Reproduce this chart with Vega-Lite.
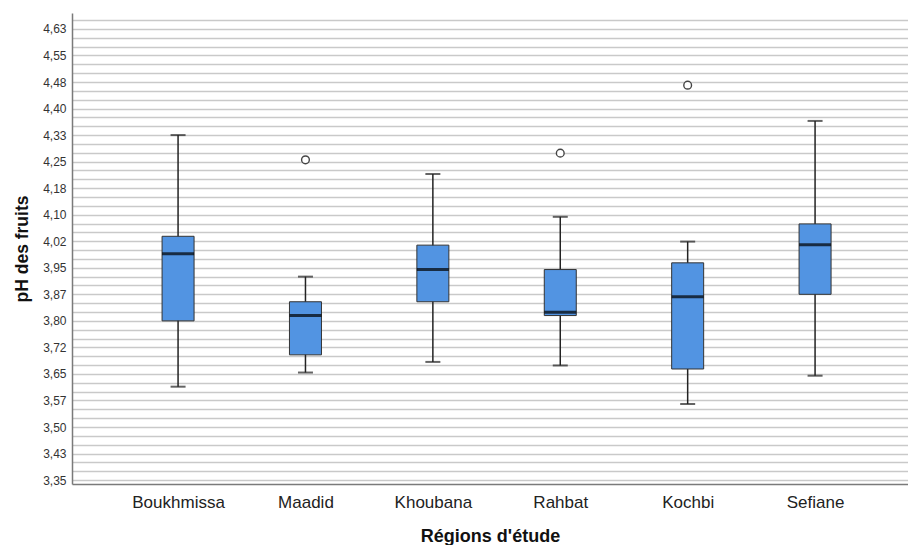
{
  "$schema": "https://vega.github.io/schema/vega-lite/v6.json",
  "width": 836,
  "height": 471,
  "autosize": {"type": "none"},
  "padding": {"left": 72, "top": 13, "right": 0, "bottom": 61},
  "background": "white",
  "config": {
    "view": {"stroke": null},
    "font": "Liberation Sans",
    "axisY": {
      "labelOverlap": false,
      "labelFontSize": 12,
      "labelColor": "#333333",
      "labelPadding": 6,
      "ticks": false,
      "grid": true,
      "gridColor": "#c9c9c9",
      "gridWidth": 1.6,
      "domainColor": "#7a7a7a",
      "domainWidth": 1.5,
      "titleFontSize": 17.5,
      "titleFontWeight": "bold",
      "titleColor": "#111111",
      "titlePadding": 11
    }
  },
  "datasets": {
    "boxes": [
      {"region": "Boukhmissa", "lower": 3.614, "q1": 3.800, "median": 3.990, "q3": 4.039, "upper": 4.325},
      {"region": "Maadid", "lower": 3.654, "q1": 3.704, "median": 3.815, "q3": 3.854, "upper": 3.925},
      {"region": "Khoubana", "lower": 3.684, "q1": 3.854, "median": 3.945, "q3": 4.014, "upper": 4.215},
      {"region": "Rahbat", "lower": 3.674, "q1": 3.815, "median": 3.824, "q3": 3.945, "upper": 4.094},
      {"region": "Kochbi", "lower": 3.565, "q1": 3.664, "median": 3.868, "q3": 3.964, "upper": 4.024},
      {"region": "Sefiane", "lower": 3.645, "q1": 3.875, "median": 4.015, "q3": 4.074, "upper": 4.365}
    ],
    "outliers": [
      {"region": "Maadid", "value": 4.255},
      {"region": "Rahbat", "value": 4.274},
      {"region": "Kochbi", "value": 4.466}
    ]
  },
  "encoding": {
    "x": {
      "field": "region",
      "type": "nominal",
      "sort": ["Boukhmissa", "Maadid", "Khoubana", "Rahbat", "Kochbi", "Sefiane"],
      "scale": {"type": "point", "padding": 0.781, "align": 0.533},
      "axis": {
        "title": "Régions d'étude",
        "titleFontSize": 18,
        "titleFontWeight": "bold",
        "titleColor": "#111111",
        "titlePadding": 17,
        "labelFontSize": 17,
        "labelColor": "#222222",
        "labelPadding": 10,
        "labelAngle": 0,
        "ticks": false,
        "grid": false,
        "domainColor": "#7a7a7a",
        "domainWidth": 1.5
      }
    }
  },
  "layer": [
    {
      "data": {"name": "boxes"},
      "mark": {"type": "rule", "color": "#222222", "strokeWidth": 1.5},
      "encoding": {
        "y": {
          "field": "lower",
          "type": "quantitative",
          "title": "pH des fruits",
          "scale": {"domain": [3.339, 4.67], "nice": false, "zero": false},
          "axis": {
            "values": [3.35, 3.375, 3.4, 3.425, 3.45, 3.475, 3.5, 3.525, 3.55, 3.575, 3.6, 3.625, 3.65, 3.675, 3.7, 3.725, 3.75, 3.775, 3.8, 3.825, 3.85, 3.875, 3.9, 3.925, 3.95, 3.975, 4.0, 4.025, 4.05, 4.075, 4.1, 4.125, 4.15, 4.175, 4.2, 4.225, 4.25, 4.275, 4.3, 4.325, 4.35, 4.375, 4.4, 4.425, 4.45, 4.475, 4.5, 4.525, 4.55, 4.575, 4.6, 4.625, 4.65],
            "labelExpr": "(round((datum.value - 3.35) / 0.025) % 3 == 0) ? ['3,35','3,43','3,50','3,57','3,65','3,72','3,80','3,87','3,95','4,02','4,10','4,18','4,25','4,33','4,40','4,48','4,55','4,63'][round((datum.value - 3.35) / 0.075)] : ''"
          }
        },
        "y2": {"field": "upper"}
      }
    },
    {
      "data": {"name": "boxes"},
      "mark": {"type": "tick", "color": "#222222", "size": 15, "thickness": 2, "orient": "horizontal"},
      "encoding": {
        "y": {
          "field": "lower", "type": "quantitative", "title": "pH des fruits",
          "scale": {"domain": [3.339, 4.67], "nice": false, "zero": false},
          "axis": {
            "values": [3.35, 3.375, 3.4, 3.425, 3.45, 3.475, 3.5, 3.525, 3.55, 3.575, 3.6, 3.625, 3.65, 3.675, 3.7, 3.725, 3.75, 3.775, 3.8, 3.825, 3.85, 3.875, 3.9, 3.925, 3.95, 3.975, 4.0, 4.025, 4.05, 4.075, 4.1, 4.125, 4.15, 4.175, 4.2, 4.225, 4.25, 4.275, 4.3, 4.325, 4.35, 4.375, 4.4, 4.425, 4.45, 4.475, 4.5, 4.525, 4.55, 4.575, 4.6, 4.625, 4.65],
            "labelExpr": "(round((datum.value - 3.35) / 0.025) % 3 == 0) ? ['3,35','3,43','3,50','3,57','3,65','3,72','3,80','3,87','3,95','4,02','4,10','4,18','4,25','4,33','4,40','4,48','4,55','4,63'][round((datum.value - 3.35) / 0.075)] : ''"
          }
        }
      }
    },
    {
      "data": {"name": "boxes"},
      "mark": {"type": "tick", "color": "#222222", "size": 15, "thickness": 2, "orient": "horizontal"},
      "encoding": {
        "y": {
          "field": "upper", "type": "quantitative", "title": "pH des fruits",
          "scale": {"domain": [3.339, 4.67], "nice": false, "zero": false},
          "axis": {
            "values": [3.35, 3.375, 3.4, 3.425, 3.45, 3.475, 3.5, 3.525, 3.55, 3.575, 3.6, 3.625, 3.65, 3.675, 3.7, 3.725, 3.75, 3.775, 3.8, 3.825, 3.85, 3.875, 3.9, 3.925, 3.95, 3.975, 4.0, 4.025, 4.05, 4.075, 4.1, 4.125, 4.15, 4.175, 4.2, 4.225, 4.25, 4.275, 4.3, 4.325, 4.35, 4.375, 4.4, 4.425, 4.45, 4.475, 4.5, 4.525, 4.55, 4.575, 4.6, 4.625, 4.65],
            "labelExpr": "(round((datum.value - 3.35) / 0.025) % 3 == 0) ? ['3,35','3,43','3,50','3,57','3,65','3,72','3,80','3,87','3,95','4,02','4,10','4,18','4,25','4,33','4,40','4,48','4,55','4,63'][round((datum.value - 3.35) / 0.075)] : ''"
          }
        }
      }
    },
    {
      "data": {"name": "boxes"},
      "mark": {"type": "bar", "size": 32, "fill": "#5294e2", "stroke": "#333333", "strokeWidth": 1},
      "encoding": {
        "y": {
          "field": "q1", "type": "quantitative", "title": "pH des fruits",
          "scale": {"domain": [3.339, 4.67], "nice": false, "zero": false},
          "axis": {
            "values": [3.35, 3.375, 3.4, 3.425, 3.45, 3.475, 3.5, 3.525, 3.55, 3.575, 3.6, 3.625, 3.65, 3.675, 3.7, 3.725, 3.75, 3.775, 3.8, 3.825, 3.85, 3.875, 3.9, 3.925, 3.95, 3.975, 4.0, 4.025, 4.05, 4.075, 4.1, 4.125, 4.15, 4.175, 4.2, 4.225, 4.25, 4.275, 4.3, 4.325, 4.35, 4.375, 4.4, 4.425, 4.45, 4.475, 4.5, 4.525, 4.55, 4.575, 4.6, 4.625, 4.65],
            "labelExpr": "(round((datum.value - 3.35) / 0.025) % 3 == 0) ? ['3,35','3,43','3,50','3,57','3,65','3,72','3,80','3,87','3,95','4,02','4,10','4,18','4,25','4,33','4,40','4,48','4,55','4,63'][round((datum.value - 3.35) / 0.075)] : ''"
          }
        },
        "y2": {"field": "q3"}
      }
    },
    {
      "data": {"name": "boxes"},
      "mark": {"type": "tick", "color": "#000000", "size": 32, "thickness": 3, "orient": "horizontal"},
      "encoding": {
        "y": {
          "field": "median", "type": "quantitative", "title": "pH des fruits",
          "scale": {"domain": [3.339, 4.67], "nice": false, "zero": false},
          "axis": {
            "values": [3.35, 3.375, 3.4, 3.425, 3.45, 3.475, 3.5, 3.525, 3.55, 3.575, 3.6, 3.625, 3.65, 3.675, 3.7, 3.725, 3.75, 3.775, 3.8, 3.825, 3.85, 3.875, 3.9, 3.925, 3.95, 3.975, 4.0, 4.025, 4.05, 4.075, 4.1, 4.125, 4.15, 4.175, 4.2, 4.225, 4.25, 4.275, 4.3, 4.325, 4.35, 4.375, 4.4, 4.425, 4.45, 4.475, 4.5, 4.525, 4.55, 4.575, 4.6, 4.625, 4.65],
            "labelExpr": "(round((datum.value - 3.35) / 0.025) % 3 == 0) ? ['3,35','3,43','3,50','3,57','3,65','3,72','3,80','3,87','3,95','4,02','4,10','4,18','4,25','4,33','4,40','4,48','4,55','4,63'][round((datum.value - 3.35) / 0.075)] : ''"
          }
        }
      }
    },
    {
      "data": {"name": "outliers"},
      "mark": {"type": "point", "shape": "circle", "filled": false, "size": 60, "stroke": "#444444", "strokeWidth": 1.4, "fill": "white", "fillOpacity": 1},
      "encoding": {
        "y": {
          "field": "value", "type": "quantitative", "title": "pH des fruits",
          "scale": {"domain": [3.339, 4.67], "nice": false, "zero": false},
          "axis": {
            "values": [3.35, 3.375, 3.4, 3.425, 3.45, 3.475, 3.5, 3.525, 3.55, 3.575, 3.6, 3.625, 3.65, 3.675, 3.7, 3.725, 3.75, 3.775, 3.8, 3.825, 3.85, 3.875, 3.9, 3.925, 3.95, 3.975, 4.0, 4.025, 4.05, 4.075, 4.1, 4.125, 4.15, 4.175, 4.2, 4.225, 4.25, 4.275, 4.3, 4.325, 4.35, 4.375, 4.4, 4.425, 4.45, 4.475, 4.5, 4.525, 4.55, 4.575, 4.6, 4.625, 4.65],
            "labelExpr": "(round((datum.value - 3.35) / 0.025) % 3 == 0) ? ['3,35','3,43','3,50','3,57','3,65','3,72','3,80','3,87','3,95','4,02','4,10','4,18','4,25','4,33','4,40','4,48','4,55','4,63'][round((datum.value - 3.35) / 0.075)] : ''"
          }
        }
      }
    }
  ]
}
